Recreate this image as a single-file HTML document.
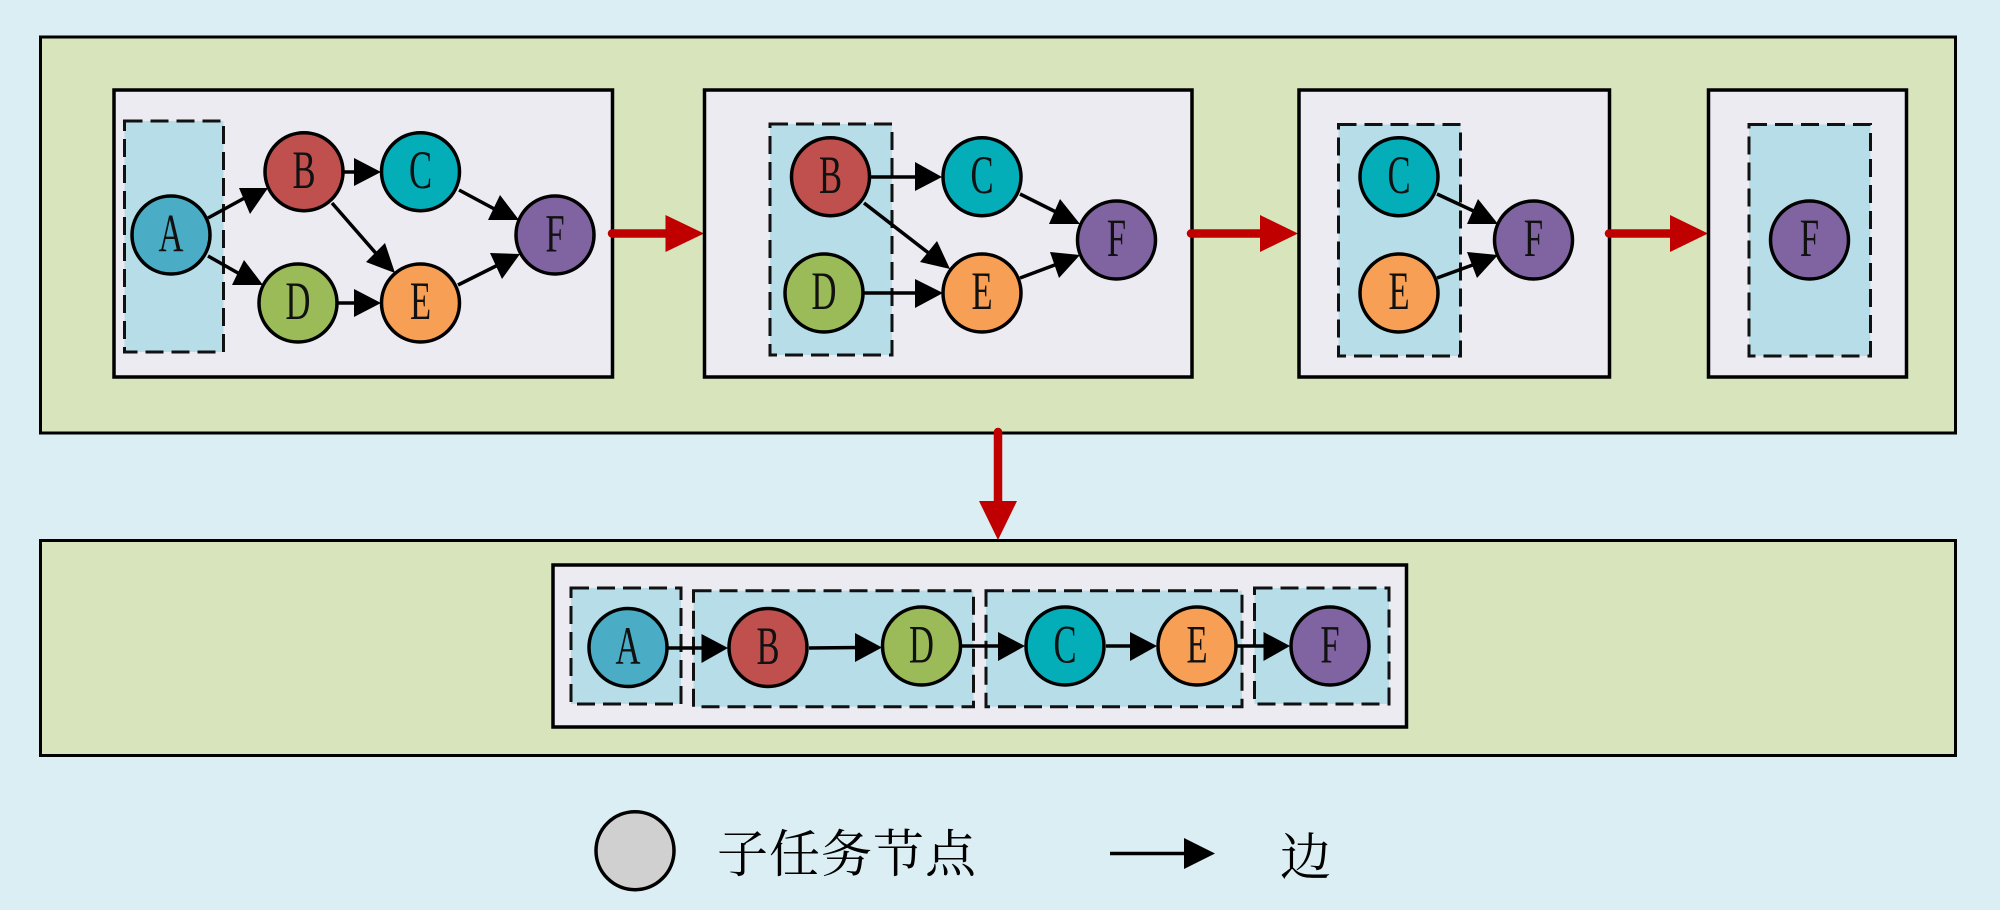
<!DOCTYPE html>
<html><head><meta charset="utf-8"><style>
html,body{margin:0;padding:0;width:2000px;height:910px;overflow:hidden;background:#DAEEF3}
svg{display:block}
.o{fill:#D8E4BC;stroke:#000;stroke-width:3}
.i{fill:#ECEBF2;stroke:#000;stroke-width:3.5}
.d{fill:#B7DDE8;stroke:#111;stroke-width:3;stroke-dasharray:18 8}
circle{stroke:#000;stroke-width:3.5}
.A{fill:#4BACC6}.B{fill:#C0504D}.C{fill:#03AEB8}.D{fill:#9BBB59}.E{fill:#F79F55}.F{fill:#8064A2}
line{stroke:#000;stroke-width:3.5}
polygon{fill:#000}
.r{stroke:#C00000;stroke-width:8.5;stroke-linecap:round}
.rh{fill:#C00000}
.t{font-family:"Liberation Serif",serif;font-size:54px;fill:#111;text-anchor:middle}
.z{font-family:"Liberation Serif","Noto Serif CJK SC",serif;font-size:51px;fill:#000;font-weight:400}
</style></head><body>
<svg width="2000" height="910" viewBox="0 0 2000 910" xmlns="http://www.w3.org/2000/svg">
<rect width="2000" height="910" fill="#DAEEF3"/>
<rect class="o" x="40.5" y="37" width="1915" height="396"/>
<rect class="o" x="40.5" y="540.500" width="1915" height="215"/>

<!-- panel 1 -->
<rect class="i" x="114" y="90" width="498.500" height="287"/>
<rect class="d" x="124.500" y="121" width="99" height="231"/>
<line x1="208" y1="218" x2="250" y2="195"/><polygon points="268,188 239,188 250,214"/>
<line x1="344" y1="172" x2="360" y2="172"/><polygon points="381,172 354,158 354,186"/>
<line x1="459" y1="190" x2="500" y2="212"/><polygon points="519,220 500,195 488,220"/>
<line x1="332" y1="203" x2="380" y2="258"/><polygon points="395,273 385,243 366,262"/>
<line x1="208" y1="256" x2="245" y2="277"/><polygon points="263,285 244,260 232,285"/>
<line x1="338" y1="303" x2="360" y2="303"/><polygon points="381,303 354,289 354,317"/>
<line x1="458" y1="285" x2="500" y2="264"/><polygon points="520,254 490,253 502,279"/>
<circle class="A" cx="171" cy="235" r="39"/><text class="t" transform="translate(171,251.500) scale(.64,1)">A</text>
<circle class="B" cx="304" cy="171.700" r="39"/><text class="t" transform="translate(304,188) scale(.64,1)">B</text>
<circle class="C" cx="420.500" cy="171.700" r="39"/><text class="t" transform="translate(420.500,188) scale(.64,1)">C</text>
<circle class="D" cx="298" cy="303" r="39"/><text class="t" transform="translate(298,319) scale(.64,1)">D</text>
<circle class="E" cx="420.500" cy="303" r="39"/><text class="t" transform="translate(420.500,319) scale(.64,1)">E</text>
<circle class="F" cx="555" cy="235" r="39"/><text class="t" transform="translate(555,251.500) scale(.64,1)">F</text>

<line class="r" x1="612" y1="233.500" x2="668" y2="233.500"/><polygon class="rh" points="704,233.500 665.500,215 665.500,252"/>

<!-- panel 2 -->
<rect class="i" x="704.500" y="90" width="487.500" height="287"/>
<rect class="d" x="770" y="124" width="122" height="231"/>
<line x1="871" y1="177" x2="920" y2="177"/><polygon points="942,177 915,162 915,191"/>
<line x1="864" y1="203" x2="935" y2="258"/><polygon points="950,269 937,241 920,262"/>
<line x1="864" y1="293" x2="920" y2="293"/><polygon points="943,293 915,279 915,308"/>
<line x1="1020" y1="194" x2="1060" y2="214"/><polygon points="1080,224 1060,199 1049,224"/>
<line x1="1020" y1="278" x2="1060" y2="263"/><polygon points="1080,255 1050,252 1059,278"/>
<circle class="B" cx="830.500" cy="176.700" r="39"/><text class="t" transform="translate(830.500,193) scale(.64,1)">B</text>
<circle class="D" cx="824" cy="293" r="39"/><text class="t" transform="translate(824,309) scale(.64,1)">D</text>
<circle class="C" cx="982" cy="176.700" r="39"/><text class="t" transform="translate(982,193) scale(.64,1)">C</text>
<circle class="E" cx="982" cy="293" r="39"/><text class="t" transform="translate(982,309) scale(.64,1)">E</text>
<circle class="F" cx="1116.500" cy="240" r="39"/><text class="t" transform="translate(1116.500,256) scale(.64,1)">F</text>

<line class="r" x1="1191" y1="233.500" x2="1262" y2="233.500"/><polygon class="rh" points="1298,233.500 1260,215 1260,252"/>

<!-- panel 3 -->
<rect class="i" x="1299" y="90" width="310.500" height="287"/>
<rect class="d" x="1338.500" y="124.500" width="122" height="231.500"/>
<line x1="1437" y1="194" x2="1480" y2="214"/><polygon points="1498,224 1478,199 1467,224"/>
<line x1="1437" y1="278" x2="1478" y2="263"/><polygon points="1498,255 1467,252 1477,278"/>
<circle class="C" cx="1399" cy="176.700" r="39"/><text class="t" transform="translate(1399,193) scale(.64,1)">C</text>
<circle class="E" cx="1399" cy="293" r="39"/><text class="t" transform="translate(1399,309) scale(.64,1)">E</text>
<circle class="F" cx="1533.500" cy="240" r="39"/><text class="t" transform="translate(1533.500,256) scale(.64,1)">F</text>

<line class="r" x1="1609" y1="233.500" x2="1672" y2="233.500"/><polygon class="rh" points="1708,233.500 1670,215 1670,252"/>

<!-- panel 4 -->
<rect class="i" x="1708.500" y="90" width="198" height="287"/>
<rect class="d" x="1749" y="124.500" width="121.500" height="231.500"/>
<circle class="F" cx="1809.500" cy="240" r="39"/><text class="t" transform="translate(1809.500,256) scale(.64,1)">F</text>

<!-- down arrow -->
<line class="r" x1="998" y1="432" x2="998" y2="504"/><polygon class="rh" points="998,540 979,501 1017,501"/>

<!-- merged panel -->
<rect class="i" x="553" y="565" width="853.500" height="162"/>
<rect class="d" x="571" y="588" width="110" height="116"/>
<rect class="d" x="693.500" y="590.700" width="280" height="116"/>
<rect class="d" x="986" y="590.700" width="256" height="116"/>
<rect class="d" x="1254.500" y="588" width="134.500" height="116"/>
<line x1="668" y1="648" x2="705" y2="648"/><polygon points="728,648 701.500,634 701.500,663"/>
<line x1="809" y1="648" x2="860" y2="647.500"/><polygon points="882,647.500 855,633 855,662"/>
<line x1="962" y1="646" x2="1002" y2="646"/><polygon points="1025,646 998,632 998,661"/>
<line x1="1106" y1="646" x2="1135" y2="646"/><polygon points="1157,646 1130,632 1130,661"/>
<line x1="1237" y1="646" x2="1268" y2="646"/><polygon points="1290,646 1263.500,632 1263.500,661"/>
<circle class="A" cx="628" cy="647.500" r="39"/><text class="t" transform="translate(628,664) scale(.64,1)">A</text>
<circle class="B" cx="768" cy="647.500" r="39"/><text class="t" transform="translate(768,664) scale(.64,1)">B</text>
<circle class="D" cx="921.500" cy="646" r="39"/><text class="t" transform="translate(921.500,662.500) scale(.64,1)">D</text>
<circle class="C" cx="1065" cy="646" r="39"/><text class="t" transform="translate(1065,662.500) scale(.64,1)">C</text>
<circle class="E" cx="1197" cy="646" r="39"/><text class="t" transform="translate(1197,662.500) scale(.64,1)">E</text>
<circle class="F" cx="1330" cy="646" r="39"/><text class="t" transform="translate(1330,662.500) scale(.64,1)">F</text>

<!-- legend -->
<circle cx="635" cy="850.700" r="39" fill="#D0D0D0"/>
<text class="z" x="717" y="872" letter-spacing="1">子任务节点</text>
<line x1="1110" y1="853.500" x2="1190" y2="853.500"/><polygon points="1215,853.500 1184,838 1184,869"/>
<text class="z" x="1280" y="875">边</text>
</svg>
</body></html>
